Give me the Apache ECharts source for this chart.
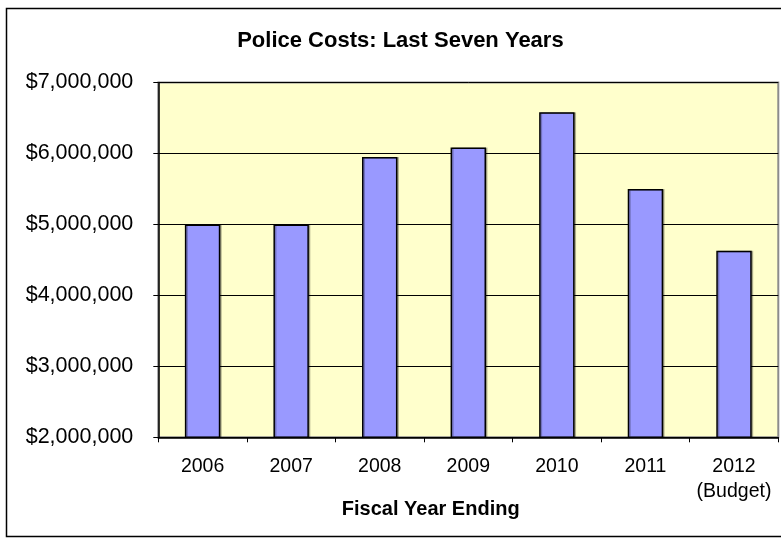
<!DOCTYPE html>
<html>
<head>
<meta charset="utf-8">
<script src="https://cdn.jsdelivr.net/npm/echarts@6/dist/echarts.min.js"></script>
<style>
  html, body { margin: 0; padding: 0; background: #fff; }
  #chart { width: 781px; height: 541px; }
</style>
</head>
<body>
<div id="chart"></div>
<script>
// Fiscal years shown on the category axis
const fiscalYears = ['2006', '2007', '2008', '2009', '2010', '2011', '2012\n(Budget)'];
// Police costs per fiscal year, in dollars
const policeCosts = [5000000, 5000000, 5950000, 6085000, 6580000, 5500000, 4630000];
// Value axis range
const axisMin = 2000000;
const axisMax = 7000000;
const axisStep = 1000000;

const FONT = '"Liberation Sans", Arial, sans-serif';

const chart = echarts.init(document.getElementById('chart'), null, { renderer: 'canvas' });

function formatDollars(v) {
  return '$' + Math.round(v).toLocaleString('en-US');
}

chart.setOption({
  animation: false,
  backgroundColor: '#ffffff',
  grid: {
    left: 158.3,
    right: 2.7,
    top: 82.5,
    bottom: 103.7,
    show: true,
    backgroundColor: '#FFFFCC',
    borderColor: '#8c8c8c',
    borderWidth: 2
  },
  xAxis: {
    type: 'category',
    data: fiscalYears,
    axisLine: { show: true, lineStyle: { color: '#000', width: 1.5 } },
    axisTick: { show: true, alignWithLabel: false, length: 5, lineStyle: { color: '#000' } },
    axisLabel: {
      color: '#000',
      fontFamily: FONT,
      fontSize: 19.5,
      lineHeight: 25,
      margin: 17,
      interval: 0
    }
  },
  yAxis: {
    type: 'value',
    min: axisMin,
    max: axisMax,
    interval: axisStep,
    axisLine: { show: true, lineStyle: { color: '#000', width: 1.5 } },
    axisTick: { show: true, inside: false, length: 5, lineStyle: { color: '#000' } },
    splitLine: { show: true, lineStyle: { color: '#000', width: 1 } },
    axisLabel: {
      color: '#000',
      fontFamily: FONT,
      fontSize: 21.5,
      margin: 25,
      formatter: formatDollars
    }
  },
  series: [{
    type: 'bar',
    data: policeCosts,
    barWidth: '40%',
    itemStyle: {
      color: '#9999FF',
      borderColor: '#000',
      borderWidth: 1.5,
      shadowColor: 'rgba(0,0,0,0.25)',
      shadowOffsetX: 1.5,
      shadowOffsetY: 0
    }
  }],
  graphic: [
    {
      type: 'rect',
      silent: true,
      z: -1,
      shape: { x: 6.5, y: 8.5, width: 790, height: 528 },
      style: { fill: 'none', stroke: '#000', lineWidth: 1.5 }
    },
    {
      type: 'text',
      silent: true,
      style: {
        x: 400.4,
        y: 30,
        text: 'Police Costs: Last Seven Years',
        font: 'bold 22px ' + FONT,
        fill: '#000',
        textAlign: 'center',
        textVerticalAlign: 'top'
      }
    },
    {
      type: 'text',
      silent: true,
      style: {
        x: 430.7,
        y: 499,
        text: 'Fiscal Year Ending',
        font: 'bold 20px ' + FONT,
        fill: '#000',
        textAlign: 'center',
        textVerticalAlign: 'top'
      }
    }
  ]
});
</script>
</body>
</html>
